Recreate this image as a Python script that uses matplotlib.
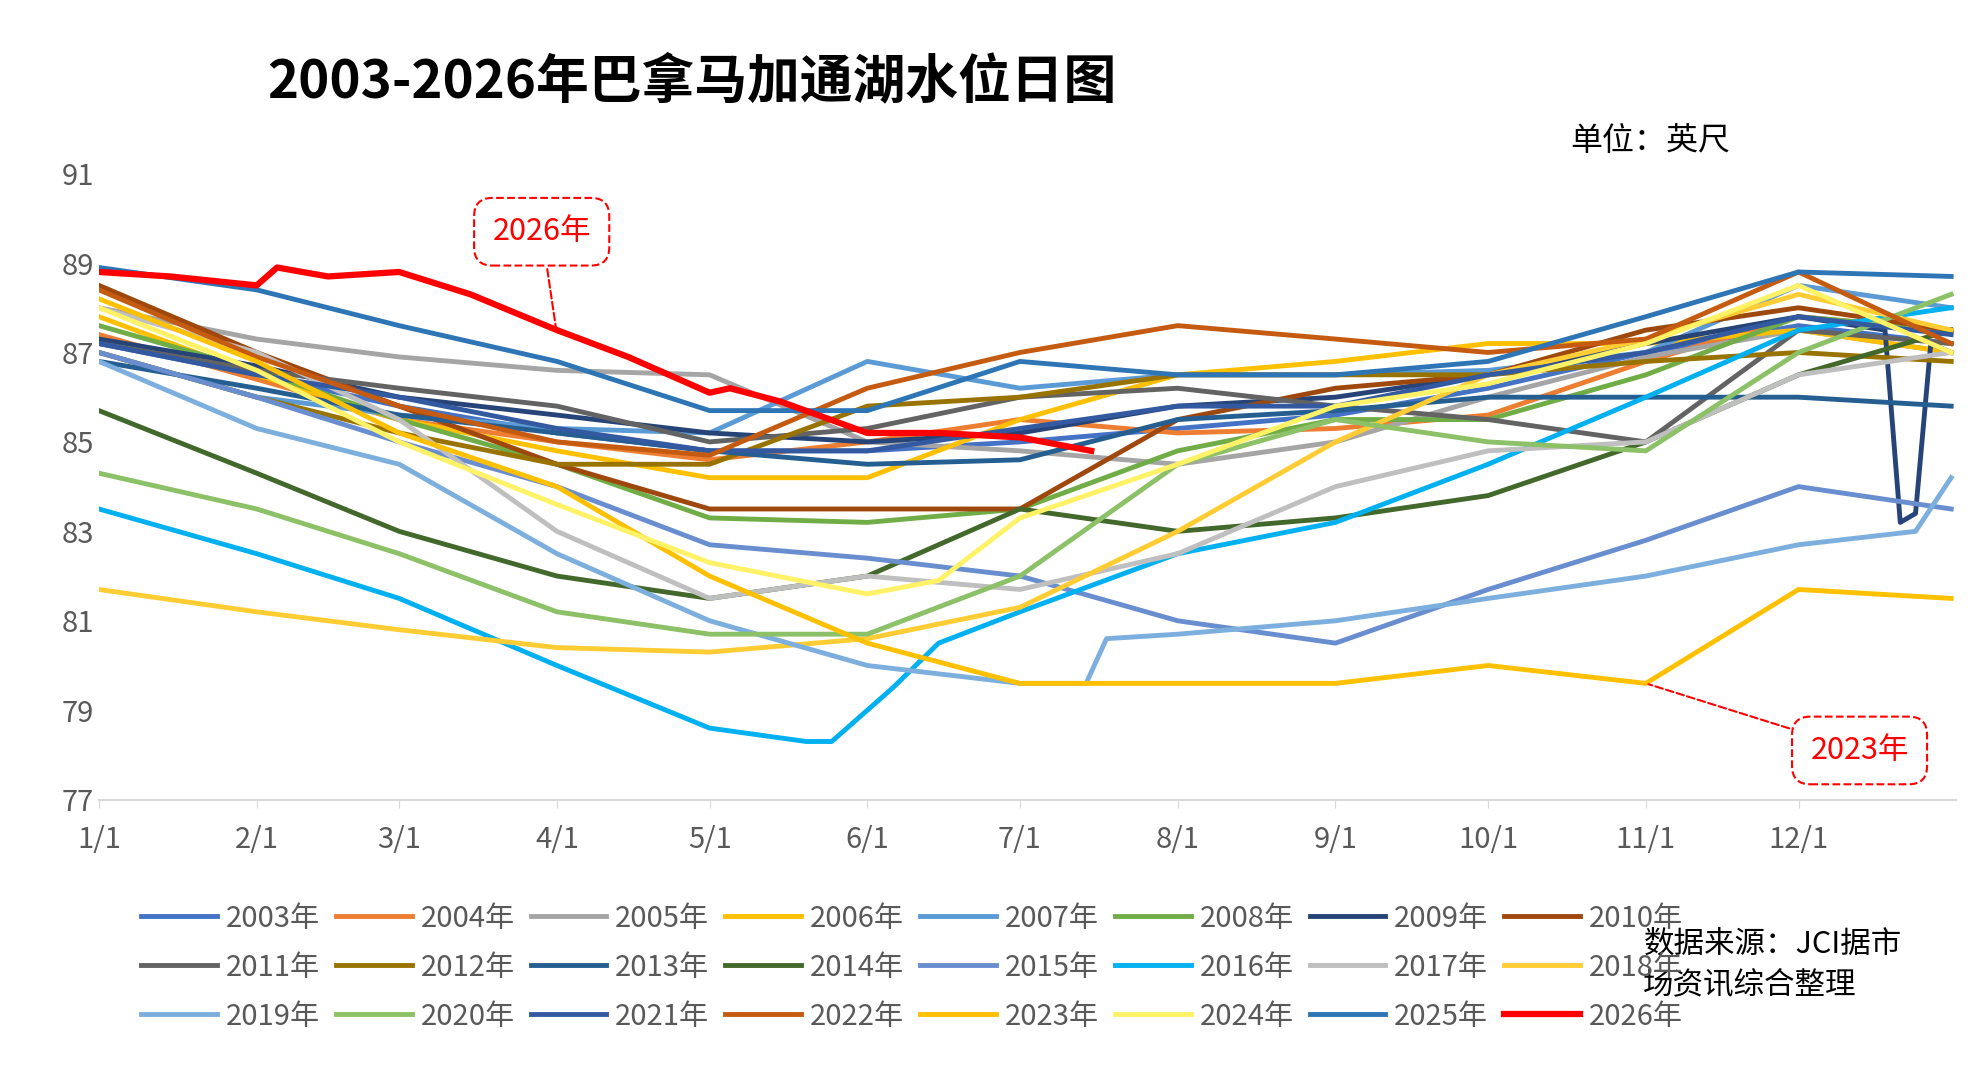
import matplotlib
matplotlib.use("Agg")
import matplotlib.pyplot as plt
import numpy as np

plt.rcParams['font.family'] = ['Noto Sans CJK SC', 'DejaVu Sans']

# month-start days (day of year) used for most series
month_days = [1, 32, 60, 91, 121, 152, 182, 213, 244, 274, 305, 335, 365]
month_labels = ["1/1", "2/1", "3/1", "4/1", "5/1", "6/1", "7/1", "8/1", "9/1", "10/1", "11/1", "12/1"]

years = [str(y) + "年" for y in range(2003, 2027)]
colors = ["#4472C4", "#ED7D31", "#A5A5A5", "#FFC000", "#5B9BD5", "#70AD47", "#264478", "#9E480E",
          "#636363", "#997300", "#255E91", "#43682B", "#698ED0", "#00B0F0", "#BFBFBF", "#FFCD33",
          "#7CAFDD", "#8CC168", "#335AA1", "#C55A11", "#FFC000", "#FFF266", "#2E75B6", "#FF0000"]

lvl_2003 = [87.2, 86.5, 85.8, 85.2, 84.8, 84.8, 85.0, 85.3, 85.6, 86.2, 87.0, 87.6, 87.2]
lvl_2004 = [87.4, 86.4, 85.5, 85.0, 84.6, 85.0, 85.5, 85.2, 85.3, 85.6, 86.8, 87.8, 87.5]
lvl_2005 = [88.0, 87.3, 86.9, 86.6, 86.5, 85.0, 84.8, 84.5, 85.0, 86.0, 86.9, 87.5, 87.0]
lvl_2006 = [87.8, 86.5, 85.5, 84.8, 84.2, 84.2, 85.5, 86.5, 86.8, 87.2, 87.2, 87.5, 87.0]
lvl_2007 = [87.0, 86.0, 85.6, 85.3, 85.2, 86.8, 86.2, 86.5, 86.5, 86.6, 87.0, 88.5, 88.0]
lvl_2008 = [87.6, 86.6, 85.5, 84.5, 83.3, 83.2, 83.5, 84.8, 85.5, 85.5, 86.5, 87.8, 87.5]
days_2009 = [1, 32, 60, 91, 121, 152, 182, 213, 244, 274, 305, 335, 352, 355, 358, 361, 365]
lvl_2009 = [87.3, 86.7, 86.0, 85.6, 85.2, 85.0, 85.2, 85.8, 86.0, 86.5, 87.2, 87.8, 87.5, 83.2, 83.4, 87.2, 87.0]
lvl_2010 = [88.5, 87.0, 85.8, 84.5, 83.5, 83.5, 83.5, 85.5, 86.2, 86.5, 87.5, 88.0, 87.5]
lvl_2011 = [87.2, 86.6, 86.2, 85.8, 85.0, 85.3, 86.0, 86.2, 85.8, 85.5, 85.0, 87.5, 87.2]
lvl_2012 = [87.0, 86.0, 85.2, 84.5, 84.5, 85.8, 86.0, 86.5, 86.5, 86.5, 86.8, 87.0, 86.8]
lvl_2013 = [86.8, 86.2, 85.6, 85.2, 84.8, 84.5, 84.6, 85.5, 85.7, 86.0, 86.0, 86.0, 85.8]
lvl_2014 = [85.7, 84.3, 83.0, 82.0, 81.5, 82.0, 83.5, 83.0, 83.3, 83.8, 85.0, 86.5, 87.5]
lvl_2015 = [87.0, 86.0, 85.0, 84.0, 82.7, 82.4, 82.0, 81.0, 80.5, 81.7, 82.8, 84.0, 83.5]
days_2016 = [1, 32, 60, 91, 121, 140, 145, 157, 166, 182, 213, 244, 274, 305, 335, 365]
lvl_2016 = [83.5, 82.5, 81.5, 80.0, 78.6, 78.3, 78.3, 79.5, 80.5, 81.2, 82.5, 83.2, 84.5, 86.0, 87.5, 88.0]
lvl_2017 = [88.0, 87.0, 85.5, 83.0, 81.5, 82.0, 81.7, 82.5, 84.0, 84.8, 85.0, 86.5, 87.0]
lvl_2018 = [81.7, 81.2, 80.8, 80.4, 80.3, 80.6, 81.3, 83.0, 85.0, 86.5, 87.3, 88.3, 87.5]
days_2019 = [1, 32, 60, 91, 121, 152, 182, 195, 199, 213, 244, 274, 305, 335, 358, 365]
lvl_2019 = [86.8, 85.3, 84.5, 82.5, 81.0, 80.0, 79.6, 79.6, 80.6, 80.7, 81.0, 81.5, 82.0, 82.7, 83.0, 84.2]
lvl_2020 = [84.3, 83.5, 82.5, 81.2, 80.7, 80.7, 82.0, 84.5, 85.5, 85.0, 84.8, 87.0, 88.3]
lvl_2021 = [87.2, 86.5, 86.0, 85.3, 84.8, 84.8, 85.3, 85.8, 85.8, 86.5, 87.0, 87.8, 87.4]
lvl_2022 = [88.4, 86.9, 85.8, 85.0, 84.7, 86.2, 87.0, 87.6, 87.3, 87.0, 87.3, 88.8, 87.2]
lvl_2023 = [88.2, 86.8, 85.2, 84.0, 82.0, 80.5, 79.6, 79.6, 79.6, 80.0, 79.6, 81.7, 81.5]
days_2024 = [1, 32, 60, 91, 121, 152, 166, 182, 213, 244, 274, 305, 335, 365]
lvl_2024 = [88.0, 86.6, 85.0, 83.6, 82.3, 81.6, 81.9, 83.3, 84.5, 85.8, 86.3, 87.2, 88.5, 87.0]
lvl_2025 = [88.9, 88.4, 87.6, 86.8, 85.7, 85.7, 86.8, 86.5, 86.5, 86.8, 87.8, 88.8, 88.7]
days_2026 = [1, 15, 32, 36, 46, 60, 74, 91, 105, 121, 125, 135, 152, 166, 182, 196]
lvl_2026 = [88.8, 88.7, 88.5, 88.9, 88.7, 88.8, 88.3, 87.5, 86.9, 86.1, 86.2, 85.9, 85.2, 85.2, 85.1, 84.8]

series = [
    (month_days, lvl_2003), (month_days, lvl_2004), (month_days, lvl_2005), (month_days, lvl_2006),
    (month_days, lvl_2007), (month_days, lvl_2008), (days_2009, lvl_2009), (month_days, lvl_2010),
    (month_days, lvl_2011), (month_days, lvl_2012), (month_days, lvl_2013), (month_days, lvl_2014),
    (month_days, lvl_2015), (days_2016, lvl_2016), (month_days, lvl_2017), (month_days, lvl_2018),
    (days_2019, lvl_2019), (month_days, lvl_2020), (month_days, lvl_2021), (month_days, lvl_2022),
    (month_days, lvl_2023), (days_2024, lvl_2024), (month_days, lvl_2025), (days_2026, lvl_2026),
]

fig = plt.figure(figsize=(19.8, 10.85), dpi=100)
ax = fig.add_axes([0.05, 0.263, 0.938, 0.577])

for i, (d, v) in enumerate(series):
    lw = 4.5 if i == 23 else 3.5
    ax.plot(d, v, color=colors[i], lw=lw, label=years[i], zorder=3 if i == 23 else 2)

ax.set_xlim(1, 366)
ax.set_ylim(77, 91)
ax.set_yticks(range(77, 92, 2))
ax.set_xticks(month_days[:12])
ax.set_xticklabels(month_labels)
ax.tick_params(axis='both', labelsize=21, colors='#595959', length=0)
ax.tick_params(axis='x', length=6, color='#D9D9D9', direction='out', pad=12)
for s in ['top', 'right', 'left']:
    ax.spines[s].set_visible(False)
ax.spines['bottom'].set_color('#D9D9D9')
ax.spines['bottom'].set_linewidth(1.5)

fig.text(0.135, 0.91, "2003-2026年巴拿马加通湖水位日图", fontsize=38, fontweight='bold')
fig.text(0.793, 0.862, "单位：英尺", fontsize=23)
fig.text(0.83, 0.085, "数据来源：JCI据市\n场资讯综合整理", fontsize=22, linespacing=1.4)

box = dict(boxstyle="round,pad=0.6", fc="white", ec="red", ls="--", lw=1.5)
ax.annotate("2026年", xy=(91, 87.4), xytext=(88, 89.7), fontsize=22, color="red",
            ha='center', va='center', bbox=box,
            arrowprops=dict(arrowstyle='-', color='red', ls='--', lw=1.5))
ax.annotate("2023年", xy=(305, 79.6), xytext=(347, 78.1), fontsize=22, color="red",
            ha='center', va='center', bbox=box,
            arrowprops=dict(arrowstyle='-', color='red', ls='--', lw=1.5))

# legend filled row by row (matplotlib fills columns first)
handles, labels = ax.get_legend_handles_labels()
order = [r * 8 + c for c in range(8) for r in range(3)]
fig.legend([handles[k] for k in order], [labels[k] for k in order], loc='lower left',
           bbox_to_anchor=(0.058, 0.025), ncol=8, frameon=False, fontsize=21,
           handlelength=2.6, columnspacing=0.55, handletextpad=0.3, labelspacing=0.65,
           labelcolor='#595959')

fig.savefig("out.png", dpi=100)
